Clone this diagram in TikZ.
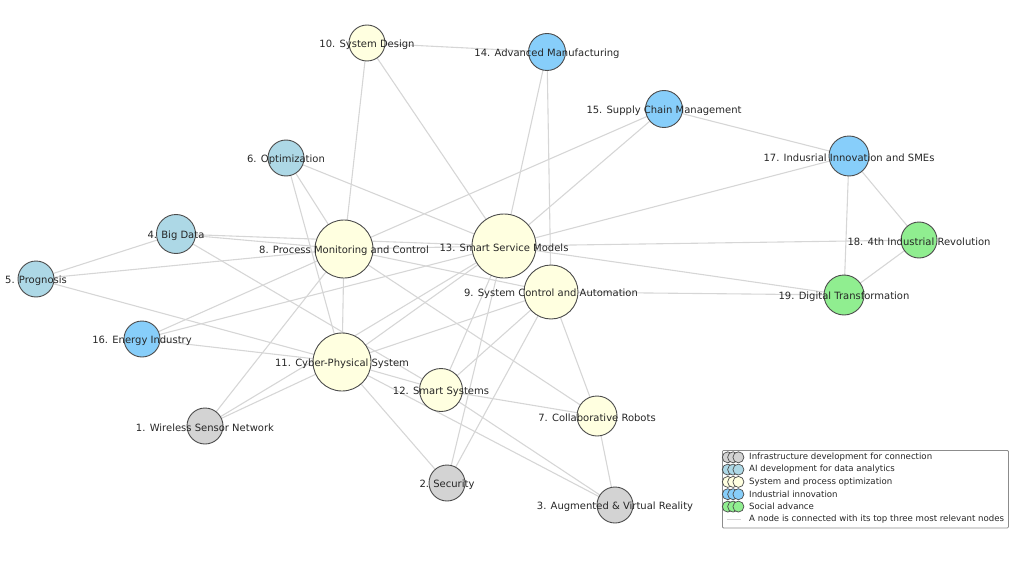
\documentclass[tikz,border=0pt]{standalone}
\usepackage{fontspec}
\setmainfont{DejaVu Sans}
\definecolor{cgray}{HTML}{D3D3D3}
\definecolor{cblue}{HTML}{ADD8E6}
\definecolor{cyel}{HTML}{FFFFE0}
\definecolor{csky}{HTML}{87CEFA}
\definecolor{cgreen}{HTML}{90EE90}
\definecolor{clink}{HTML}{D6D6D6}
\pgfdeclarelayer{bg}
\pgfsetlayers{bg,main}
\tikzset{
  vtx/.style={circle, draw=black!70, line width=0.9pt, inner sep=0pt, outer sep=0pt},
  lbl/.style={font=\fontsize{10}{12}\selectfont, text=black!85, inner sep=0pt, yshift=-1.5pt},
  lnk/.style={draw=clink, line width=1.1pt},
  legtxt/.style={font=\fontsize{8.6}{10}\selectfont, text=black!85, inner sep=0pt, anchor=west},
  legdot/.style={circle, draw=black!70, line width=0.7pt, inner sep=0pt, minimum size=11pt},
}
\begin{document}
\begin{tikzpicture}[x=1pt,y=-1pt]
\useasboundingbox (0,0) rectangle (1024,572);
% nodes
\node[vtx, fill=cgray,  minimum size=36pt] (n1)  at (205,426) {};
\node[vtx, fill=cgray,  minimum size=36pt] (n2)  at (447,483) {};
\node[vtx, fill=cgray,  minimum size=36pt] (n3)  at (615,505) {};
\node[vtx, fill=cblue,  minimum size=39pt] (n4)  at (176,234) {};
\node[vtx, fill=cblue,  minimum size=36pt] (n5)  at (36,279) {};
\node[vtx, fill=cblue,  minimum size=36pt] (n6)  at (286,158) {};
\node[vtx, fill=cyel,   minimum size=40pt] (n7)  at (597,416) {};
\node[vtx, fill=cyel,   minimum size=58pt] (n8)  at (344,249) {};
\node[vtx, fill=cyel,   minimum size=54pt] (n9)  at (551,292) {};
\node[vtx, fill=cyel,   minimum size=36pt] (n10) at (367,43) {};
\node[vtx, fill=cyel,   minimum size=58pt] (n11) at (342,362) {};
\node[vtx, fill=cyel,   minimum size=43pt] (n12) at (441,390) {};
\node[vtx, fill=cyel,   minimum size=64pt] (n13) at (504,246) {};
\node[vtx, fill=csky,   minimum size=37pt] (n14) at (547,52) {};
\node[vtx, fill=csky,   minimum size=37pt] (n15) at (664,109) {};
\node[vtx, fill=csky,   minimum size=36pt] (n16) at (142,339) {};
\node[vtx, fill=csky,   minimum size=40pt] (n17) at (849,156) {};
\node[vtx, fill=cgreen, minimum size=36pt] (n18) at (919,240) {};
\node[vtx, fill=cgreen, minimum size=40pt] (n19) at (844,295) {};
% edges
\begin{pgfonlayer}{bg}
\foreach \a/\b in {10/14,10/8,10/13,14/13,14/9,15/17,15/8,15/13,17/13,17/18,17/19,18/19,18/13,19/13,19/9,
  6/8,6/11,6/13,4/5,4/8,4/13,4/12,5/8,5/11,16/8,16/13,16/11,1/8,1/11,1/13,8/11,8/13,8/9,8/7,
  11/13,11/9,11/12,11/2,11/3,12/3,12/7,12/13,12/9,2/13,2/9,9/7,7/3}
  \draw[lnk] (n\a.center) -- (n\b.center);
\end{pgfonlayer}
% labels
\node[lbl] (t1)  at (n1)  {1. Wireless Sensor Network};
\node[lbl] (t2)  at (n2)  {2. Security};
\node[lbl] (t3)  at (n3)  {3. Augmented \& Virtual Reality};
\node[lbl] (t4)  at (n4)  {4. Big Data};
\node[lbl] (t5)  at (n5)  {5. Prognosis};
\node[lbl] (t6)  at (n6)  {6. Optimization};
\node[lbl] (t7)  at (n7)  {7. Collaborative Robots};
\node[lbl] (t8)  at (n8)  {8. Process Monitoring and Control};
\node[lbl] (t9)  at (n9)  {9. System Control and Automation};
\node[lbl] (t10) at (n10) {10. System Design};
\node[lbl] (t11) at (n11) {11. Cyber-Physical System};
\node[lbl] (t12) at (n12) {12. Smart Systems};
\node[lbl] (t13) at (n13) {13. Smart Service Models};
\node[lbl] (t14) at (n14) {14. Advanced Manufacturing};
\node[lbl] (t15) at (n15) {15. Supply Chain Management};
\node[lbl] (t16) at (n16) {16. Energy Industry};
\node[lbl] (t17) at (n17) {17. Indusrial Innovation and SMEs};
\node[lbl] (t18) at (n18) {18. 4th Industrial Revolution};
\node[lbl] (t19) at (n19) {19. Digital Transformation};
% legend
\node[draw=black!45, line width=0.8pt, fill=white, minimum width=286pt, minimum height=77.5pt, inner sep=0pt, anchor=north west, rounded corners=1pt] (leg) at (722,450) {};
\foreach \y/\c/\t [count=\i] in {457.3/cgray/Infrastructure development for connection,
  469.6/cblue/AI development for data analytics,
  481.9/cyel/System and process optimization,
  494.2/csky/Industrial innovation,
  506.6/cgreen/Social advance}{
  \node[legdot, fill=\c] (la\i) at (727.8,\y) {};
  \node[legdot, fill=\c] (lb\i) at (733.1,\y) {};
  \node[legdot, fill=\c] (lc\i) at (738.4,\y) {};
  \node[legtxt] (lt\i) at (749,\y) {\t};
}
\coordinate (ls) at (727,519);
\coordinate (le) at (741,519);
\draw[lnk, line width=0.8pt] (ls) -- (le);
\node[legtxt] (lt6) at (749,519) {A node is connected with its top three most relevant nodes};
\end{tikzpicture}
\end{document}
